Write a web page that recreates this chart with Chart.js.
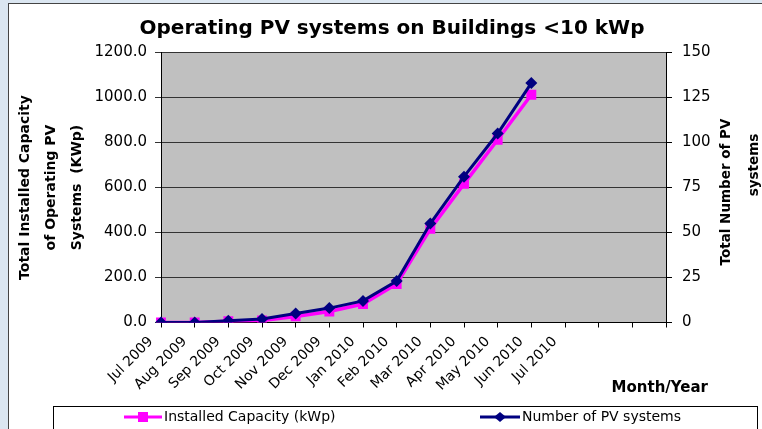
<!DOCTYPE html>
<html>
<head>
<meta charset="utf-8">
<script src="https://cdn.jsdelivr.net/npm/chart.js@4.4.1/dist/chart.umd.min.js"></script>
<style>
  body { margin: 0; background: #dbe6f1; }
  canvas { display: block; }
</style>
</head>
<body>
<canvas id="graficoPV" width="762" height="429"></canvas>
<script>
// Datos del gráfico
const meses = [
  "Jul 2009", "Aug 2009", "Sep 2009", "Oct 2009", "Nov 2009", "Dec 2009",
  "Jan 2010", "Feb 2010", "Mar 2010", "Apr 2010", "May 2010", "Jun 2010",
  "Jul 2010", "", "", "",
];
const capacidadInstalada = [0, 0, 6, 9, 27, 49, 82, 171, 416, 616, 812, 1012];
const numeroSistemas = [0, 0, 1, 2, 5, 8, 12, 23, 55, 81, 105, 133];
const ticksCapacidad = [0, 200, 400, 600, 800, 1000, 1200];
const ticksSistemas = [0, 25, 50, 75, 100, 125, 150];

const fuente = "'DejaVu Sans', sans-serif";

// Plugin para el fondo, el área gris, el título derecho y la leyenda
const decoracion = {
  id: "decoracion",
  beforeDraw(chart) {
    const { ctx, chartArea: a, width, height } = chart;
    ctx.save();
    ctx.fillStyle = "#dbe6f1";
    ctx.fillRect(0, 0, width, height);
    ctx.fillStyle = "#ffffff";
    ctx.fillRect(8, 3, width - 8, height - 3);
    ctx.strokeStyle = "#444";
    ctx.lineWidth = 1;
    ctx.strokeRect(8.5, 3.5, width, height);
    ctx.fillStyle = "#c0c0c0"; // área de trazado gris
    ctx.fillRect(a.left, a.top, a.right - a.left, a.bottom - a.top);
    ctx.restore();
  },
  afterDraw(chart) {
    const { ctx } = chart;
    ctx.save();
    ctx.fillStyle = "#000";
    ctx.textBaseline = "middle";

    // Título del eje derecho (girado hacia arriba)
    ctx.font = "bold 13.5px " + fuente;
    ctx.textAlign = "center";
    ctx.save();
    ctx.translate(726, 192);
    ctx.rotate(-Math.PI / 2);
    ctx.fillText("Total Number of PV", 0, 0);
    ctx.restore();
    ctx.save();
    ctx.translate(754, 165);
    ctx.rotate(-Math.PI / 2);
    ctx.fillText("systems", 0, 0);
    ctx.restore();

    // Título del eje X
    ctx.font = "bold 15px " + fuente;
    ctx.textAlign = "right";
    ctx.fillText("Month/Year", 708, 388);

    // Leyenda con recuadro
    ctx.strokeStyle = "#000";
    ctx.lineWidth = 1;
    ctx.strokeRect(53.5, 406.5, 704, 40);
    const y = 417;
    // Serie 1: capacidad
    ctx.strokeStyle = "#ff00ff";
    ctx.lineWidth = 3;
    ctx.beginPath();
    ctx.moveTo(124, y);
    ctx.lineTo(162, y);
    ctx.stroke();
    ctx.fillStyle = "#ff00ff";
    ctx.fillRect(138, y - 5, 10, 10);
    // Serie 2: número de sistemas
    ctx.strokeStyle = "#000080";
    ctx.beginPath();
    ctx.moveTo(480, y);
    ctx.lineTo(520, y);
    ctx.stroke();
    ctx.fillStyle = "#000080";
    ctx.beginPath();
    ctx.moveTo(500, y - 5);
    ctx.lineTo(506, y);
    ctx.lineTo(500, y + 5);
    ctx.lineTo(494, y);
    ctx.closePath();
    ctx.fill();
    ctx.fillStyle = "#000";
    ctx.font = "14px " + fuente;
    ctx.textAlign = "left";
    ctx.fillText("Installed Capacity (kWp)", 164, y);
    ctx.fillText("Number of PV systems", 522, y);
    ctx.restore();
  },
};

const ctx = document.getElementById("graficoPV").getContext("2d");
new Chart(ctx, {
  type: "line",
  data: {
    labels: meses,
    datasets: [
      {
        label: "Installed Capacity (kWp)",
        data: capacidadInstalada,
        yAxisID: "y",
        borderColor: "#ff00ff",
        backgroundColor: "#ff00ff",
        borderWidth: 3.5,
        pointStyle: "rect",
        pointRadius: 7,
        pointBorderWidth: 0,
        tension: 0,
        order: 1,
      },
      {
        label: "Number of PV systems",
        data: numeroSistemas,
        yAxisID: "y1",
        borderColor: "#000080",
        backgroundColor: "#000080",
        borderWidth: 3,
        pointStyle: "rectRot",
        pointRadius: 6,
        pointBorderWidth: 0,
        tension: 0,
        order: 0,
      },
    ],
  },
  options: {
    responsive: false,
    animation: false,
    devicePixelRatio: 1,
    layout: { padding: { left: 22, right: 0, top: 0, bottom: 0 } },
    scales: {
      x: {
        offset: false,
        grid: {
          drawOnChartArea: false,
          color: "#000",
          tickLength: 5,
        },
        border: { color: "#000", width: 1 },
        ticks: {
          autoSkip: false,
          minRotation: 45,
          maxRotation: 45,
          color: "#000",
          font: { family: fuente, size: 14 },
          padding: 6,
          labelOffset: -10,
        },
        afterFit: (scale) => {
          scale.height = 106.5;
        },
      },
      y: {
        position: "left",
        min: 0,
        max: 1200,
        afterBuildTicks: (scale) => {
          scale.ticks = ticksCapacidad.map((v) => ({ value: v }));
        },
        grid: { color: "#333", lineWidth: 1, tickLength: 6 },
        border: { color: "#000", width: 1 },
        ticks: {
          color: "#000",
          font: { family: fuente, size: 15 },
          padding: 8,
          callback: (v) => Number(v).toFixed(1),
        },
        title: {
          display: true,
          text: ["Total Installed Capacity", "of Operating PV", "Systems  (KWp)"],
          color: "#000",
          font: { family: fuente, size: 14, weight: "bold", lineHeight: 1.86 },
          padding: { top: -10, bottom: 0 },
        },
        afterFit: (scale) => {
          scale.width = 139;
        },
      },
      y1: {
        position: "right",
        min: 0,
        max: 150,
        afterBuildTicks: (scale) => {
          scale.ticks = ticksSistemas.map((v) => ({ value: v }));
        },
        grid: { drawOnChartArea: false, color: "#000", tickLength: 6 },
        border: { color: "#000", width: 1 },
        ticks: {
          color: "#000",
          font: { family: fuente, size: 15 },
          padding: 10,
        },
        afterFit: (scale) => {
          scale.width = 96;
        },
      },
    },
    plugins: {
      legend: { display: false },
      tooltip: { enabled: false },
      title: {
        display: true,
        text: "Operating PV systems on Buildings <10 kWp",
        color: "#000",
        font: { family: fuente, size: 20, weight: "bold", lineHeight: 1.2 },
        padding: { top: 17, bottom: 11.5 },
      },
    },
  },
  plugins: [decoracion],
});
</script>
</body>
</html>
